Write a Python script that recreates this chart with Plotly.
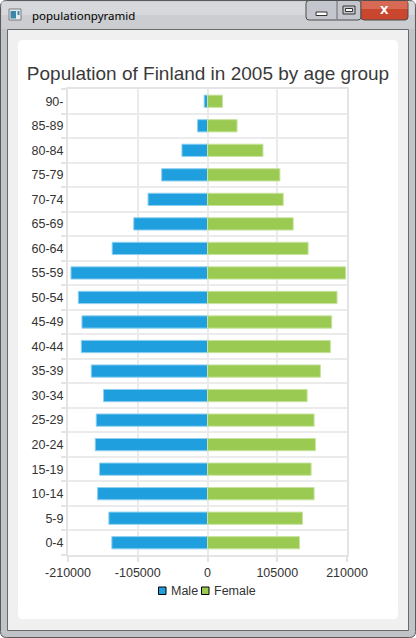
import plotly.graph_objects as go

# Finland 2005 population by age group
age_groups = ["0-4", "5-9", "10-14", "15-19", "20-24", "25-29", "30-34", "35-39", "40-44",
              "45-49", "50-54", "55-59", "60-64", "65-69", "70-74", "75-79", "80-84", "85-89", "90-"]
male = [144000, 148500, 165500, 162500, 169000, 167500, 156500, 175000, 190000,
        189000, 194500, 205500, 143500, 111000, 89500, 69000, 38500, 15000, 5000]
female = [138500, 143000, 160500, 156000, 162500, 160500, 150000, 170000, 185000,
          187000, 195000, 208000, 151500, 129000, 114000, 109000, 83500, 44500, 22500]
x_ticks = [-210000, -105000, 0, 105000, 210000]
x_tick_labels = ["-210000", "-105000", "0", "105000", "210000"]

W, H = 416, 638
ML, MR, MT, MB = 68, 69, 89, 83
PW, PH = W - ML - MR, H - MT - MB

BLUE = "#1f9fde"
GREEN = "#9bca52"
GRID = "#ebebeb"
TXT = "#333333"
FONT = "Liberation Sans, Arial, sans-serif"


def px(x):
    return (x - ML) / PW


def py(y):
    return 1 - (y - MT) / PH


def rect(x0, y0, x1, y1, fill, line=None, lw=1, layer="below"):
    return dict(type="rect", xref="paper", yref="paper", layer=layer,
                x0=px(x0), x1=px(x1), y0=py(y0), y1=py(y1), fillcolor=fill,
                line=dict(color=line or fill, width=lw if line else 0))


def rrect(x0, y0, x1, y1, r, fill, line=None, lw=1):
    p = (f"M{px(x0 + r)},{py(y0)} L{px(x1 - r)},{py(y0)} Q{px(x1)},{py(y0)} {px(x1)},{py(y0 + r)} "
         f"L{px(x1)},{py(y1 - r)} Q{px(x1)},{py(y1)} {px(x1 - r)},{py(y1)} "
         f"L{px(x0 + r)},{py(y1)} Q{px(x0)},{py(y1)} {px(x0)},{py(y1 - r)} "
         f"L{px(x0)},{py(y0 + r)} Q{px(x0)},{py(y0)} {px(x0 + r)},{py(y0)} Z")
    return dict(type="path", xref="paper", yref="paper", layer="below", path=p,
                fillcolor=fill, line=dict(color=line or fill, width=lw if line else 0))


fig = go.Figure()
fig.add_trace(go.Bar(y=age_groups, x=[-v for v in male], orientation="h", name="Male",
                     marker=dict(color=BLUE, line=dict(color="#8fd0f0", width=1))))
fig.add_trace(go.Bar(y=age_groups, x=female, orientation="h", name="Female",
                     marker=dict(color=GREEN, line=dict(color="#c8e3a0", width=1))))

# window chrome
shapes = [
    rrect(0.5, 0.5, 415.5, 637.5, 6, "#c0c3c7", "#5a5a5a", 1),
    rect(1.5, 1.5, 414.5, 15, "#d6d8db"),
    rect(1.5, 15, 414.5, 29, "#cbcdd0"),
    rect(7.5, 29.5, 408.5, 630.5, "#f0f0f0", "#6a6a6a", 1),
    rrect(18, 40, 398, 619, 5, "white"),
    # icon
    rect(9, 9, 21, 20, "#e4ecf0", "#7a7a7a", 1),
    rect(10.5, 11, 16, 18.5, "#3d86a8"),
    rect(17.5, 11, 19.5, 15, "#3d86a8"),
    # caption buttons
    rrect(306, 0.5, 361, 20, 3, "#c3c7cd", "#4d4d4d", 1),
    rect(336.5, 1, 337.5, 19.5, "#6a6a6a"),
    rrect(361, 0.5, 408, 20, 3, "#c9462f", "#4d4d4d", 1),
    rect(361.5, 1, 407.5, 9, "#d66a55"),
    rect(316, 12, 327, 15.5, "white", "#333333", 1),
    rect(343, 6, 355, 14, "#c3c7cd", "#333333", 1),
    rect(345.5, 8.5, 352.5, 11.5, "white", "#333333", 1),
    # legend swatches
    rect(158.5, 587, 166, 594.5, BLUE, "black", 1, "above"),
    rect(201.5, 587, 209, 594.5, GREEN, "black", 1, "above"),
]

fig.update_layout(
    width=W, height=H,
    margin=dict(l=ML, r=MR, t=MT, b=MB),
    paper_bgcolor="white", plot_bgcolor="white",
    barmode="relative", bargap=0.5, showlegend=False,
    font=dict(family=FONT, size=12.5, color=TXT),
    title=dict(text="Population of Finland in 2005 by age group", xref="paper",
               x=px(208), xanchor="center", yref="container", y=1 - 73 / H,
               yanchor="middle", font=dict(size=19, color="#3a3a3a", family=FONT)),
    xaxis=dict(range=[-210000, 210000], tickvals=x_ticks, ticktext=x_tick_labels,
               showgrid=True, gridcolor=GRID, gridwidth=2, zeroline=False,
               showline=True, linecolor="#e4e4e4", linewidth=2, mirror=True,
               ticks="outside", ticklen=5, tickwidth=2, tickcolor="#e4e4e4",
               fixedrange=True),
    yaxis=dict(type="category", categoryorder="array", categoryarray=age_groups,
               range=[-0.5, len(age_groups) - 0.5], tickson="boundaries",
               showgrid=True, gridcolor=GRID, gridwidth=2,
               showline=True, linecolor="#e4e4e4", linewidth=2, mirror=True,
               ticks="outside", ticklen=5, tickwidth=2, tickcolor="#e4e4e4",
               fixedrange=True),
    shapes=shapes,
    annotations=[
        dict(text="populationpyramid", xref="paper", yref="paper", x=px(29.5), y=py(15),
             xanchor="left", yanchor="middle", showarrow=False,
             font=dict(family="Noto Sans", size=11.5, color="black")),
        dict(text="<b>X</b>", xref="paper", yref="paper", x=px(384.5), y=py(10),
             xanchor="center", yanchor="middle", showarrow=False,
             font=dict(family="DejaVu Sans", size=11, color="white")),
        dict(text="Male", xref="paper", yref="paper", x=px(169), y=py(591),
             xanchor="left", yanchor="middle", showarrow=False,
             font=dict(size=12.5, color=TXT)),
        dict(text="Female", xref="paper", yref="paper", x=px(212), y=py(591),
             xanchor="left", yanchor="middle", showarrow=False,
             font=dict(size=12.5, color=TXT)),
    ],
)

fig.write_html("out.html", config={"displayModeBar": False},
               post_script="document.body.style.margin='0';")
